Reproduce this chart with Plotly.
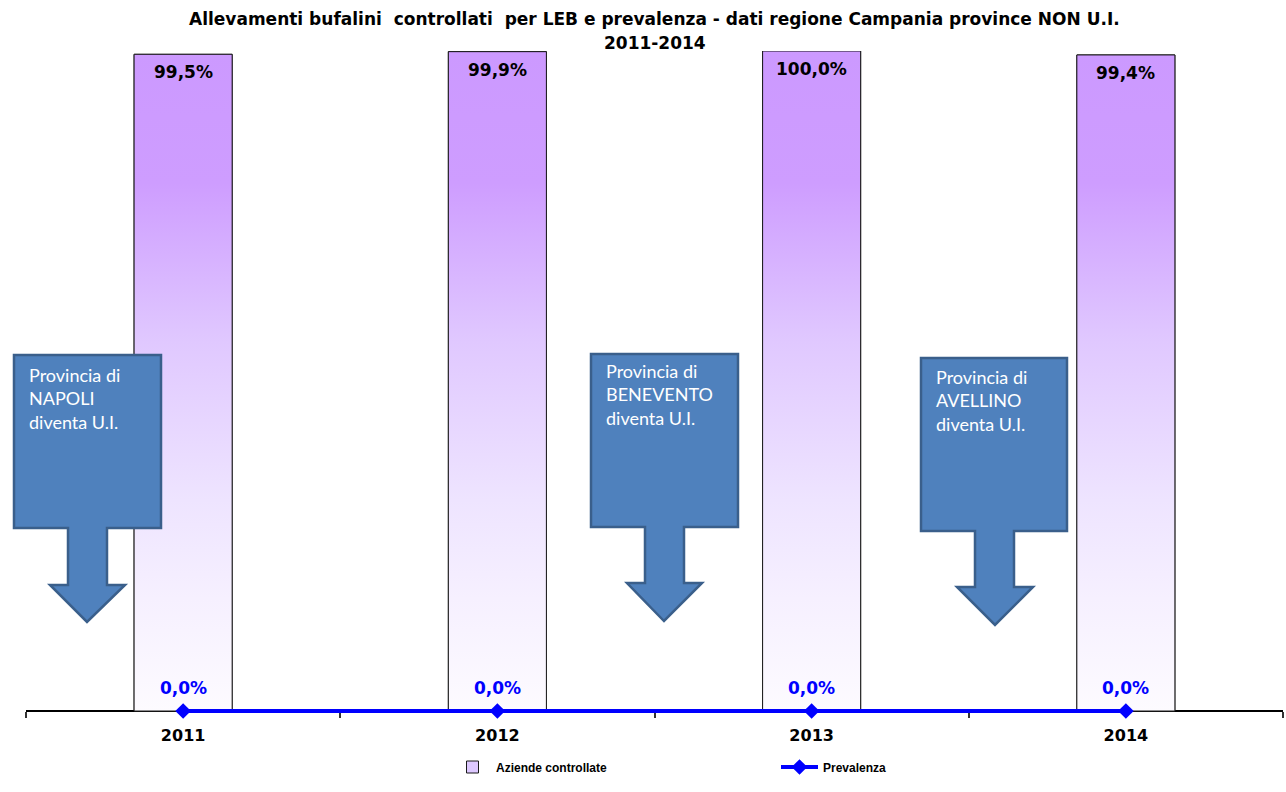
import plotly.graph_objects as go

# --- data ---------------------------------------------------------------
years = ["2011", "2012", "2013", "2014"]
aziende_controllate = [99.5, 99.9, 100.0, 99.4]   # % allevamenti controllati
prevalenza = [0.0, 0.0, 0.0, 0.0]                 # % prevalenza

title_lines = [
    "Allevamenti bufalini  controllati  per LEB e prevalenza - dati regione Campania province NON U.I.",
    "2011-2014",
]
callout_texts = [
    "Provincia di<br>NAPOLI<br>diventa U.I.",
    "Provincia di<br>BENEVENTO<br>diventa U.I.",
    "Provincia di<br>AVELLINO<br>diventa U.I.",
]

# --- page geometry ------------------------------------------------------
W, H = 1286, 792
M_L, M_R, M_T = 26, 3, 51
ZERO_PX = 711                 # page row of the value axis zero
PX_PER_UNIT = 6.6             # vertical pixels per percentage point
Y_MAX = 100.0
M_B = 61
PLOT_W = W - M_L - M_R
PLOT_H = H - M_T - M_B
Y_MIN = Y_MAX - PLOT_H / PX_PER_UNIT
AXIS_POS = (H - M_B - ZERO_PX) / PLOT_H


def px(x):
    """page pixel x -> paper coordinate"""
    return (x - M_L) / PLOT_W


def py(y):
    """page pixel y -> paper coordinate"""
    return (H - M_B - y) / PLOT_H


def pct(v):
    return f"{v:.1f}".replace(".", ",") + "%"


BAR_HALF = 0.156
xs = list(range(len(years)))

fig = go.Figure()

# bars (legend entry); painted over by the gradient-filled outlines below
fig.add_trace(go.Bar(
    x=xs, y=aziende_controllate, width=2 * BAR_HALF, name="Aziende controllate",
    marker=dict(color="#DDC8FF", line=dict(color="#1a1a1a", width=1)),
    hoverinfo="skip",
))

# the same bars, filled with a vertical lavender-to-white gradient
bx, by = [], []
for i, v in zip(xs, aziende_controllate):
    bx += [i - BAR_HALF, i - BAR_HALF, i + BAR_HALF, i + BAR_HALF, i - BAR_HALF, None]
    by += [0, v, v, 0, 0, None]
fig.add_trace(go.Scatter(
    x=bx, y=by, mode="lines", fill="toself", showlegend=False,
    line=dict(color="#1a1a1a", width=1),
    fillgradient=dict(
        type="vertical", start=0, stop=100,
        colorscale=[
            [0.0, "#FDFBFF"], [0.17, "#F6F0FF"], [0.32, "#EEE4FF"],
            [0.56, "#E0C8FF"], [0.80, "#CE9DFF"], [1.0, "#CC99FF"],
        ],
    ),
    hoverinfo="skip",
))

fig.add_trace(go.Scatter(
    x=xs, y=prevalenza, mode="lines+markers", name="Prevalenza",
    line=dict(color="#0000FF", width=4),
    marker=dict(symbol="diamond", size=12, color="#0000FF"),
    cliponaxis=False,
))

annotations = []
for k, line in enumerate(title_lines):
    annotations.append(dict(
        x=0.5, y=py(19 + 24 * k), xref="paper", yref="paper", text=line,
        showarrow=False, xanchor="center", yanchor="middle",
        font=dict(family="DejaVu Sans", size=17, color="#000000", weight="bold"),
    ))
for i, v in zip(xs, aziende_controllate):
    annotations.append(dict(
        x=i, y=v, xref="x", yref="y", text=pct(v), showarrow=False,
        yshift=-18, font=dict(family="DejaVu Sans", size=17, color="#000000", weight="bold"),
    ))
for i, v in zip(xs, prevalenza):
    annotations.append(dict(
        x=i, y=v, xref="x", yref="y", text=pct(v), showarrow=False,
        yshift=23, font=dict(family="DejaVu Sans", size=17, color="#0000FF", weight="bold"),
    ))

# down-arrow callouts: (box left, top, right, bottom, stem left, stem right,
#                       head top, head left, head right, tip x, tip y, text x, text top)
callouts = [
    (14, 355, 161, 528, 68, 107, 585, 50, 125, 87, 622, 27, 362),
    (591, 354, 738, 527, 645, 684, 583, 627, 702, 664, 621, 604, 358),
    (921, 358, 1067, 531, 975, 1014, 587, 957, 1033, 995, 625, 934, 364),
]
shapes = []
for (l, t, r, b, sl, sr, ht, hl, hr, tx, ty, txx, tyy), label in zip(callouts, callout_texts):
    pts = [(l, t), (r, t), (r, b), (sr, b), (sr, ht), (hr, ht), (tx, ty),
           (hl, ht), (sl, ht), (sl, b), (l, b)]
    path = "M " + " L ".join(f"{px(a):.5f},{py(c):.5f}" for a, c in pts) + " Z"
    shapes.append(dict(
        type="path", path=path, xref="paper", yref="paper",
        fillcolor="#4F81BD", line=dict(color="#3A5F8B", width=2.5), layer="above",
    ))
    annotations.append(dict(
        x=px(txx), y=py(tyy), xref="paper", yref="paper", text=label,
        showarrow=False, xanchor="left", yanchor="top", align="left",
        font=dict(family="Lato", size=18, color="#FFFFFF"),
    ))

boundaries = [-0.5, 0.5, 1.5, 2.5, 3.5]
fig.update_layout(
    width=W, height=H,
    margin=dict(l=M_L, r=M_R, t=M_T, b=M_B),
    paper_bgcolor="#FFFFFF", plot_bgcolor="#FFFFFF",
    barmode="overlay",
    xaxis=dict(
        range=[-0.5, 3.5], tickvals=xs, ticktext=years,
        anchor="free", position=AXIS_POS,
        ticks="", ticklabelstandoff=10, showgrid=False, zeroline=False,
        showline=True, linecolor="#000000", linewidth=2,
        tickfont=dict(family="DejaVu Sans", size=16, color="#000000", weight="bold"),
        minor=dict(tickvals=boundaries, ticks="outside",
                   ticklen=6, tickwidth=1.5, tickcolor="#333333"),
        layer="below traces", fixedrange=True,
    ),
    xaxis2=dict(
        range=[-0.5, 3.5], overlaying="x", anchor="free", position=AXIS_POS,
        side="bottom", tickvals=boundaries, ticks="inside", ticklen=6,
        tickwidth=1.5, tickcolor="#333333", showticklabels=False,
        showline=False, showgrid=False, zeroline=False, layer="below traces",
    ),
    yaxis=dict(range=[Y_MIN, Y_MAX], visible=False, fixedrange=True),
    showlegend=True,
    legend=dict(
        orientation="h", x=px(449), xanchor="left", y=py(767), yanchor="middle",
        font=dict(family="Liberation Sans", size=12, color="#000000", weight="bold"),
        itemwidth=37, entrywidth=275, bgcolor="rgba(0,0,0,0)",
    ),
    annotations=annotations,
    shapes=shapes,
)

fig.write_html("out.html")
